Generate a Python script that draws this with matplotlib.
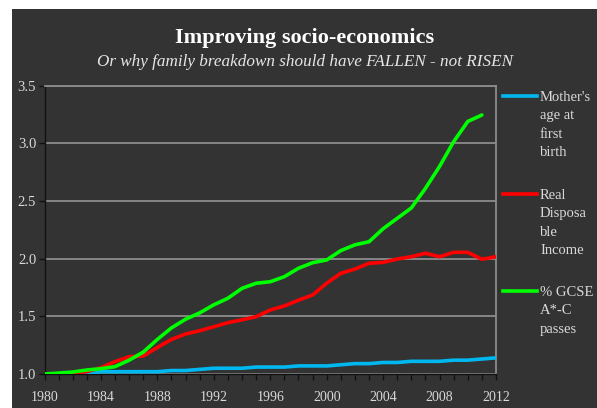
import matplotlib
matplotlib.use("Agg")
import matplotlib.pyplot as plt
from matplotlib.patches import Rectangle
from matplotlib.lines import Line2D
from matplotlib.ticker import MultipleLocator

plt.rcParams['font.family'] = ['Liberation Serif', 'DejaVu Serif']

years = list(range(1980, 2013))
mothers_age = [1.00, 1.00, 1.00, 1.01, 1.02, 1.02, 1.02, 1.02, 1.02, 1.03, 1.03,
               1.04, 1.05, 1.05, 1.05, 1.06, 1.06, 1.06, 1.07, 1.07, 1.07, 1.08,
               1.09, 1.09, 1.10, 1.10, 1.11, 1.11, 1.11, 1.12, 1.12, 1.13, 1.14]
real_income = [1.00, 1.00, 1.006, 1.02, 1.055, 1.107, 1.15, 1.156, 1.23, 1.30, 1.347,
               1.375, 1.41, 1.445, 1.47, 1.497, 1.555, 1.59, 1.64, 1.685, 1.787, 1.873,
               1.91, 1.96, 1.968, 1.997, 2.017, 2.047, 2.017, 2.055, 2.055, 1.995, 2.017]
gcse_years = list(range(1980, 2012))
gcse = [1.00, 1.008, 1.017, 1.035, 1.046, 1.064, 1.12, 1.19, 1.30, 1.40, 1.475,
        1.53, 1.60, 1.657, 1.743, 1.787, 1.80, 1.844, 1.917, 1.965, 1.989, 2.07,
        2.12, 2.147, 2.26, 2.35, 2.44, 2.61, 2.80, 3.015, 3.19, 3.246]

series_labels = ["Mother's\nage at\nfirst\nbirth", "Real\nDisposa\nble\nIncome",
                 "% GCSE\nA*-C\npasses"]
colors = ['#00B8F0', '#FF0000', '#00FF00']
title = "Improving socio-economics"
subtitle = "Or why family breakdown should have FALLEN - not RISEN"

W, H = 597, 408
fig = plt.figure(figsize=(W / 100, H / 100), dpi=100)
fig.patch.set_facecolor('white')
bg = '#333333'
fig.patches.append(Rectangle((12 / W, 0), 1 - 12 / W, 1 - 9 / H,
                             transform=fig.transFigure, facecolor=bg,
                             edgecolor='none', zorder=-10))

ax = fig.add_axes([44.5 / W, 1 - 374 / H, (496 - 44.5) / W, (374 - 85.7) / H])
ax.set_zorder(2)
ax.set_facecolor(bg)

lw = 2.6
ax.plot(years, mothers_age, color=colors[0], lw=lw, solid_capstyle='round', zorder=3)
ax.plot(years, real_income, color=colors[1], lw=lw, solid_capstyle='round', zorder=4)
ax.plot(gcse_years, gcse, color=colors[2], lw=lw, solid_capstyle='round', zorder=5)

ax.set_xlim(1980, 2012)
ax.set_ylim(1.0, 3.5)
ax.xaxis.set_major_locator(MultipleLocator(4))
ax.xaxis.set_minor_locator(MultipleLocator(1))
ax.yaxis.set_major_locator(MultipleLocator(0.5))
ax.yaxis.set_major_formatter(matplotlib.ticker.FormatStrFormatter('%.1f'))
ax.grid(axis='y', color='#8c8c8c', lw=1.3, zorder=1)
ax.set_axisbelow(True)

for s in ['left', 'bottom']:
    ax.spines[s].set_color('#111111')
    ax.spines[s].set_linewidth(1.0)
for s in ['right', 'top']:
    ax.spines[s].set_color('#8c8c8c')
    ax.spines[s].set_linewidth(1.3)

ax.tick_params(axis='x', which='both', direction='out', length=4, width=1,
               color='#111111', labelcolor='#d9d9d9', labelsize=10, pad=8)
ax.tick_params(axis='y', which='both', direction='out', length=4, width=1,
               color='#111111', labelcolor='#d9d9d9', labelsize=10.5, pad=2)

fig.text(305 / W, 1 - 38 / H, title, ha='center', va='center', color='white',
         fontsize=16, fontweight='bold')
fig.text(305 / W, 1 - 62 / H, subtitle, ha='center', va='center', color='#e6e6e6',
         fontsize=12.3, style='italic')

legend_y = [96, 194, 291]
for lab, col, y in zip(series_labels, colors, legend_y):
    fig.lines.append(Line2D([503 / W, 537 / W], [1 - y / H, 1 - y / H],
                            transform=fig.transFigure, color=col, lw=lw))
    fig.text(540 / W, 1 - (y - 5) / H, lab, ha='left', va='top', color='#d9d9d9',
             fontsize=10.5, linespacing=1.55)

fig.savefig('out.png', dpi=100, facecolor=fig.get_facecolor())
